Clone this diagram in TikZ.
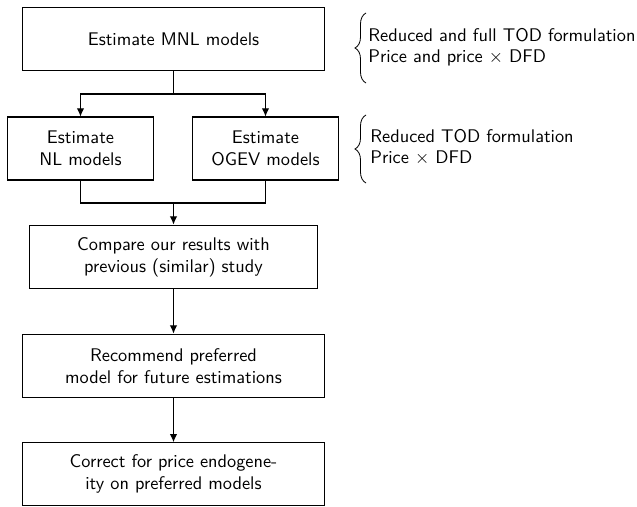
\documentclass[tikz,border=0pt]{standalone}
\usetikzlibrary{arrows.meta,decorations.pathreplacing}
\begin{document}
\begin{tikzpicture}[x=0.546pt,y=-0.546pt,
  font=\sffamily,
  box/.style={draw,line width=0.55pt,inner sep=0pt,align=center,minimum height=34.9pt},
  wide/.style={box,minimum width=165.4pt},
  narrow/.style={box,minimum width=79.2pt,minimum height=34.4pt},
  mid/.style={box,minimum width=157.2pt},
  link/.style={line width=0.55pt},
  arr/.style={link,-{Latex[length=4.4pt,width=4pt]}},
  brc/.style={decorate,decoration={brace,amplitude=6pt,aspect=0.5},line width=0.45pt},
  note/.style={anchor=west,align=left,inner sep=0pt,font=\sffamily\fontsize{10}{11.3}\selectfont}]
\useasboundingbox (0,0) rectangle (637,507);
\node[wide]   (mnl)  at (173.5,39)  {Estimate MNL models};
\node[narrow] (nl)   at (80.5,148.5) {Estimate\\NL models};
\node[narrow] (ogev) at (265.5,148.5) {Estimate\\OGEV models};
\node[mid]    (cmp)  at (173.5,257) {Compare our results with\\previous (similar) study};
\node[wide]   (rec)  at (173.5,366) {Recommend preferred\\model for future estimations};
\node[wide,minimum height=34.2pt] (cor)  at (173.5,474) {Correct for price endogene-\\ity on preferred models};
\coordinate (split) at (173.5,94);
\coordinate (join) at (173.5,203);
\draw[link] (mnl.south) -- (split);
\draw[arr] (split) -| (nl.north);
\draw[arr] (split) -| (ogev.north);
\draw[link] (nl.south) |- (join);
\draw[link] (ogev.south) |- (join);
\draw[arr] (join) -- (cmp.north);
\draw[arr] (cmp.south) -- (rec.north);
\draw[arr] (rec.south) -- (cor.north);
\coordinate (b1a) at (366,83);
\coordinate (b1b) at (366,13);
\coordinate (b2a) at (366,183);
\coordinate (b2b) at (366,115);
\draw[brc] (b1a) -- (b1b);
\draw[brc] (b2a) -- (b2b);
\node[note] (n1) at (368,47) {Reduced and full TOD formulation\\Price and price $\times$ DFD};
\node[note] (n2) at (370,147.5) {Reduced TOD formulation\\Price $\times$ DFD};
\end{tikzpicture}
\end{document}
